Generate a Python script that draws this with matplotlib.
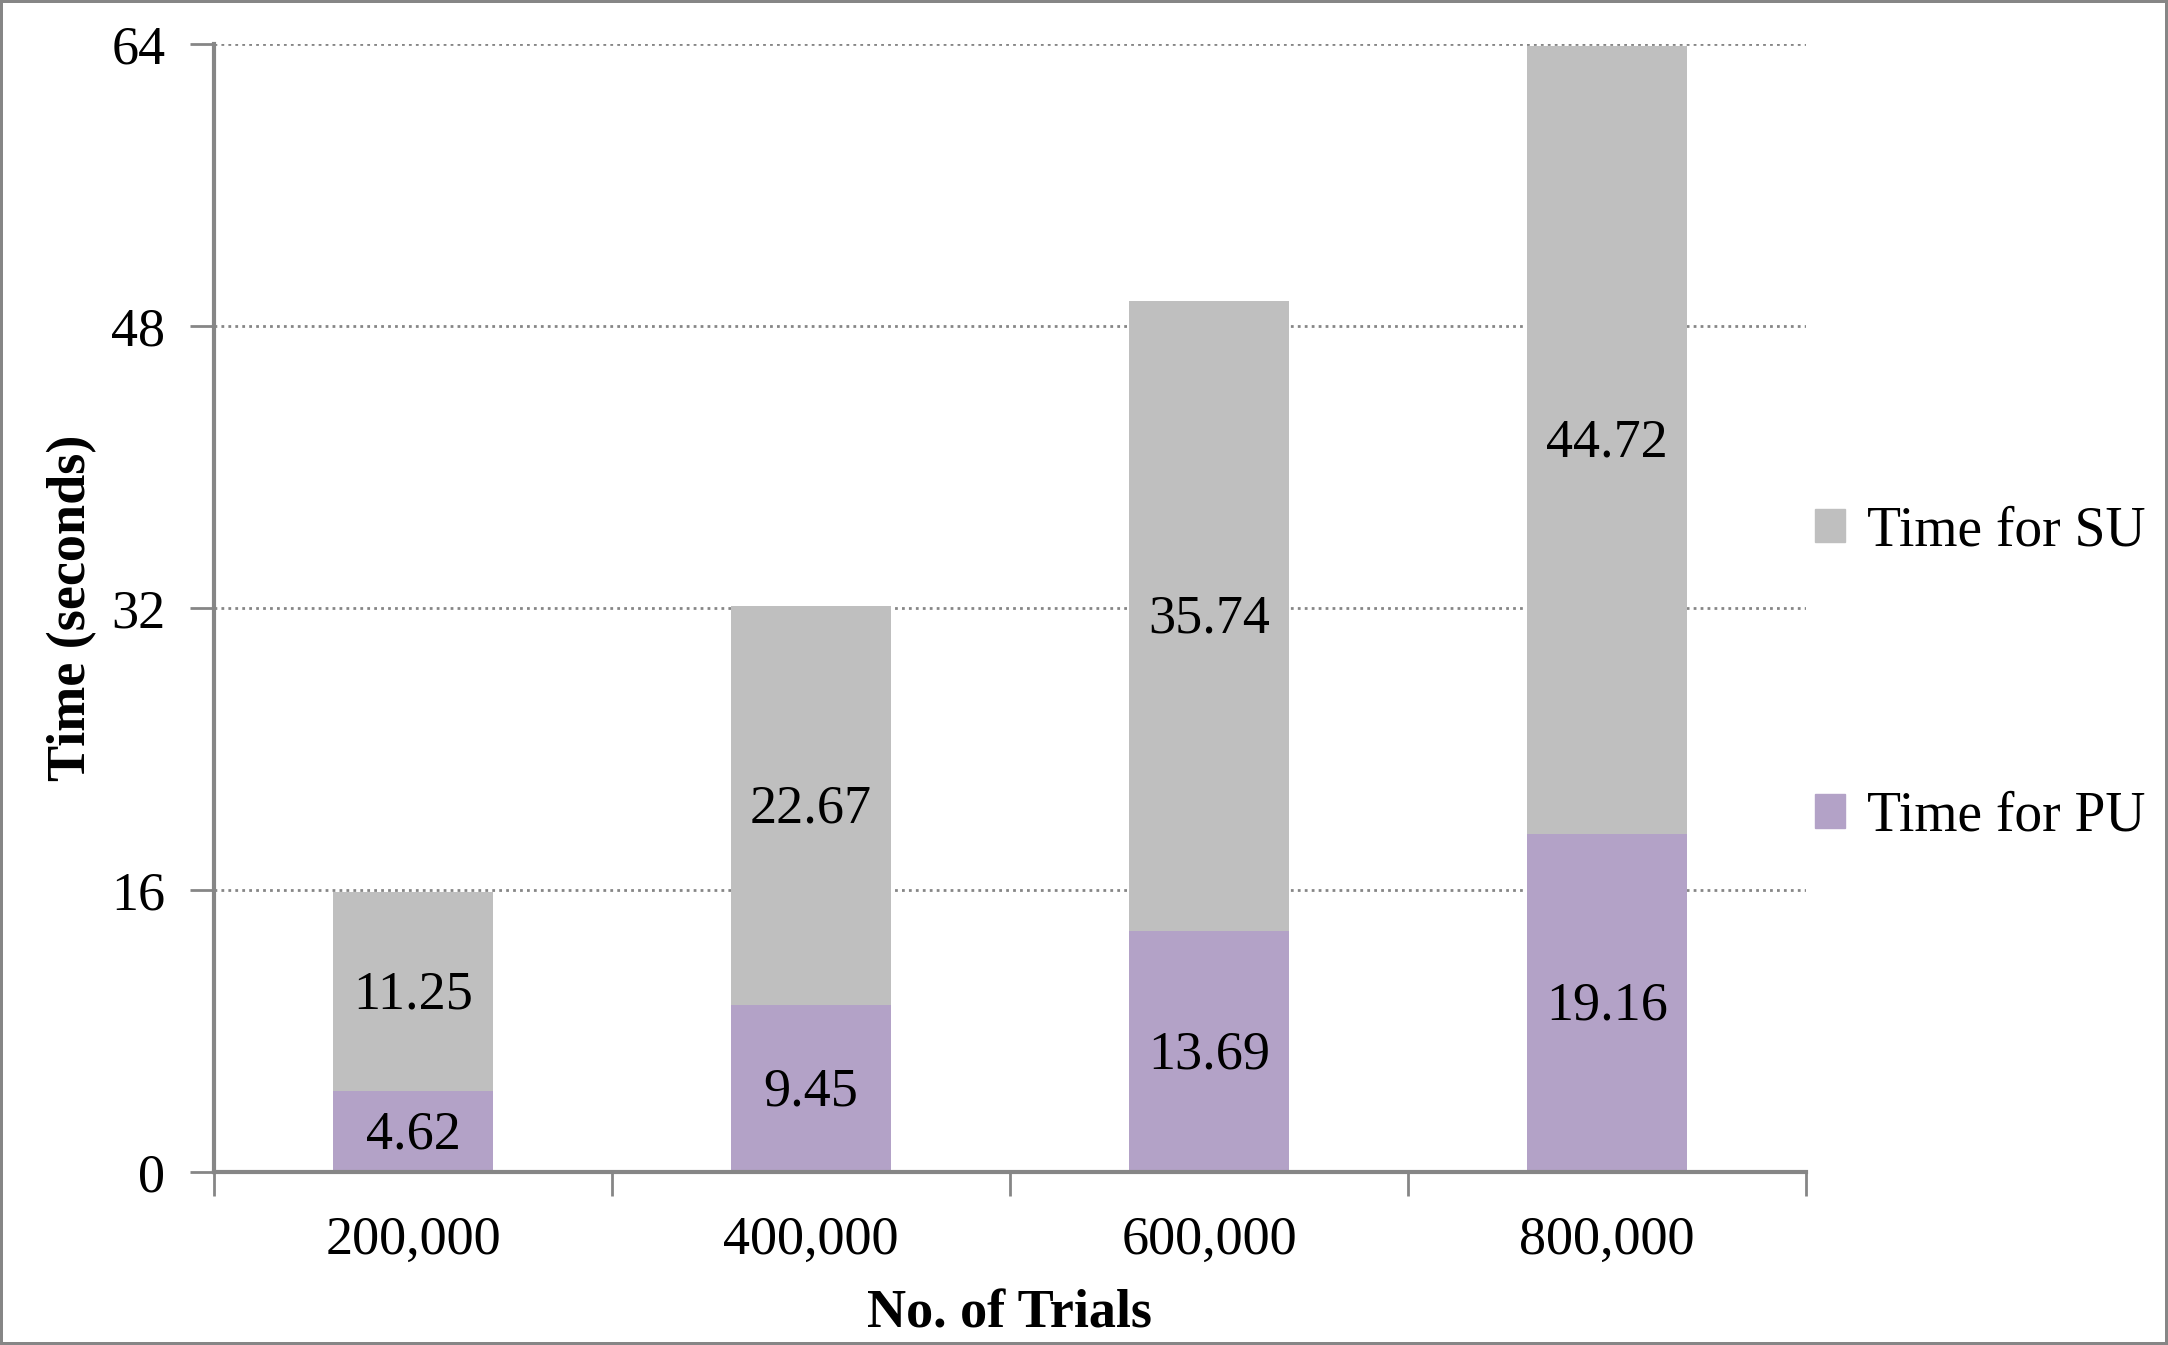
import matplotlib
matplotlib.use("Agg")
import matplotlib.pyplot as plt
from matplotlib.patches import Patch
import numpy as np

# data
trials = ["200,000", "400,000", "600,000", "800,000"]
time_pu = [4.62, 9.45, 13.69, 19.16]
time_su = [11.25, 22.67, 35.74, 44.72]
y_ticks = [0, 16, 32, 48, 64]

pu_color = "#B3A2C7"
su_color = "#BFBFBF"
line_color = "#868686"

plt.rcParams["font.family"] = ["Liberation Serif", "DejaVu Serif"]

fig = plt.figure(figsize=(21.68, 13.45), dpi=100)
fig.patch.set_edgecolor(line_color)
fig.patch.set_linewidth(3)

ax = fig.add_axes([0.0987, 0.1286, 0.7343, 0.8387])

x = np.arange(len(trials))
width = 0.4
ax.bar(x, time_pu, width, color=pu_color, label="Time for PU", zorder=3)
ax.bar(x, time_su, width, bottom=time_pu, color=su_color,
       label="Time for SU", zorder=3)

# value labels in the middle of each segment
for xi, pu, su in zip(x, time_pu, time_su):
    ax.text(xi, pu / 2 - 0.2, f"{pu:.2f}", ha="center", va="center", fontsize=39, zorder=4)
    ax.text(xi, pu + su / 2 - 0.2, f"{su:.2f}", ha="center", va="center", fontsize=39, zorder=4)

ax.set_xlim(-0.5, len(trials) - 0.5)
ax.set_ylim(0, 64)
ax.set_yticks(y_ticks)
ax.set_yticklabels([str(t) for t in y_ticks], fontsize=39)

# category labels between boundary ticks
ax.set_xticks(np.arange(len(trials) + 1) - 0.5)
ax.set_xticklabels([])
ax.set_xticks(x, minor=True)
ax.set_xticklabels(trials, minor=True, fontsize=39)
ax.tick_params(axis="x", which="minor", length=0, pad=31)
ax.tick_params(axis="x", which="major", length=17, width=2, color=line_color)
ax.tick_params(axis="y", length=17, width=2, color=line_color, pad=18)

ax.yaxis.grid(True, linestyle=(0, (1, 1.5)), color=line_color, linewidth=2, zorder=0)
ax.set_axisbelow(True)

for side in ["top", "right"]:
    ax.spines[side].set_visible(False)
for side in ["left", "bottom"]:
    ax.spines[side].set_color(line_color)
    ax.spines[side].set_linewidth(3)
    ax.spines[side].set_zorder(5)

ax.set_xlabel("No. of Trials", fontsize=39, fontweight="bold", labelpad=17)
ax.set_ylabel("Time (seconds)", fontsize=39, fontweight="bold", va="center")
ax.yaxis.set_label_coords(-0.089, 0.5)

handles = [Patch(color=su_color), Patch(color=pu_color)]
fig.legend(handles, ["Time for SU", "Time for PU"], loc="center left",
           bbox_to_anchor=(0.837, 0.499), frameon=False, fontsize=40,
           handlelength=0.55, handleheight=0.55, handletextpad=0.4,
           labelspacing=4.2, borderpad=0, borderaxespad=0)

fig.savefig("out.png", dpi=100)
